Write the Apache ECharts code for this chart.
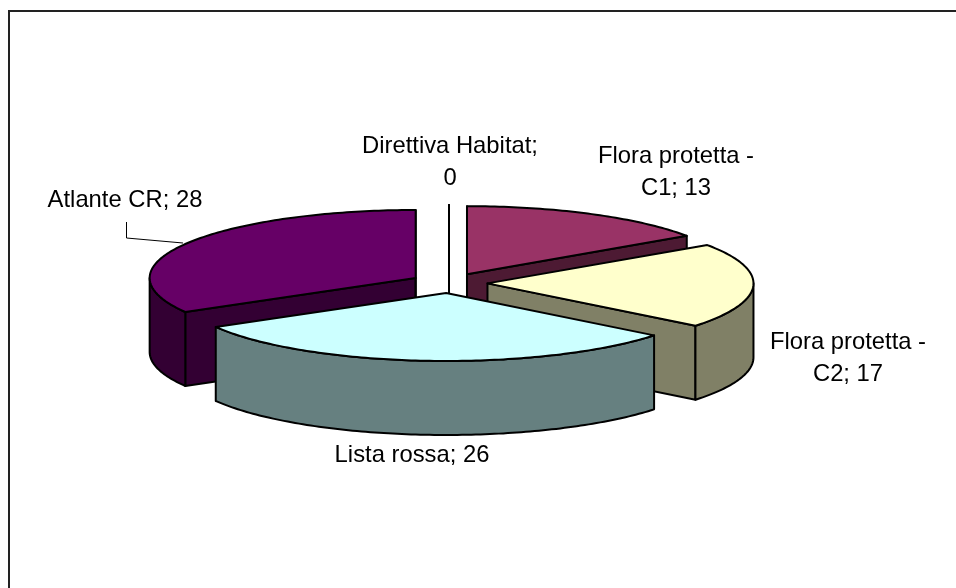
<!DOCTYPE html>
<html>
<head>
<meta charset="utf-8">
<title>Pie</title>
<script src="https://cdn.jsdelivr.net/npm/echarts@6/dist/echarts.min.js"></script>
<style>
  html, body { margin: 0; padding: 0; background: #fff; }
  #main { width: 956px; height: 588px; }
</style>
</head>
<body>
<div id="main"></div>
<script>
'use strict';

var categories = ['Direttiva Habitat', 'Flora protetta - C1', 'Flora protetta - C2', 'Lista rossa', 'Atlante CR'];
var values = [0, 13, 17, 26, 28];

var topColors = ['#ffffff', '#993366', '#ffffcc', '#ccffff', '#660066'];
var wallColors = ['#808080', '#4d1a33', '#808066', '#668080', '#330033'];

// label placement: centre of the first line, and how many words go on it
var labelSpots = [
  { x: 450, y: 146, words: 2 },
  { x: 676, y: 156, words: 3 },
  { x: 848, y: 342, words: 3 },
  { x: 412, y: 455, words: 5 },
  { x: 125, y: 200, words: 5 }
];
var leaderPoints = [[126.5, 222], [126.5, 238], [183, 243]];

// fake 3D projection of the exploded pie
var CX = 449, CY = 283, RX = 266, RY = 68, DEPTH = 74, EXPLODE_X = 38.5, EXPLODE_Y = 10;
var LINE_H = 32;
var FONT = '23.8px "Liberation Sans", Arial, sans-serif';

var total = values.reduce(function (a, b) { return a + b; }, 0);

// start/end angle in degrees, clockwise from the top, and the exploded centre
var slices = [];
var acc = 0;
values.forEach(function (v) {
  var start = acc / total * 360;
  acc += v;
  var end = acc / total * 360;
  var mid = (start + end) / 2 * Math.PI / 180;
  slices.push({
    start: start,
    end: end,
    ax: CX + EXPLODE_X * Math.sin(mid),
    ay: CY - EXPLODE_Y * Math.cos(mid)
  });
});

function rimPoint(s, deg, drop) {
  var r = deg * Math.PI / 180;
  return [s.ax + RX * Math.sin(r), s.ay - RY * Math.cos(r) + drop];
}

function arc(s, from, to, drop) {
  var pts = [];
  for (var d = from; d < to; d += 1) {
    pts.push(rimPoint(s, d, drop));
  }
  pts.push(rimPoint(s, to, drop));
  return pts;
}

function face(points, fill) {
  return {
    type: 'polygon',
    shape: { points: points },
    style: { fill: fill, stroke: '#000', lineWidth: 2, lineJoin: 'round' }
  };
}

function radialWall(s, deg, fill) {
  var p = rimPoint(s, deg, 0);
  return face([[s.ax, s.ay], p, [p[0], p[1] + DEPTH], [s.ax, s.ay + DEPTH]], fill);
}

function renderSlice(params, api) {
  var i = api.value(0);
  var s = slices[i];
  var children = [];
  var wall = wallColors[i];

  // walls first, only those turned to the viewer, then the top face
  if (-Math.sin(s.start * Math.PI / 180) > -1e-9) {
    children.push(radialWall(s, s.start, wall));
  }
  if (Math.sin(s.end * Math.PI / 180) > -1e-9) {
    children.push(radialWall(s, s.end, wall));
  }
  var from = Math.max(s.start, 90);
  var to = Math.min(s.end, 270);
  if (to > from) {
    children.push(face(arc(s, from, to, 0).concat(arc(s, from, to, DEPTH).reverse()), wall));
  }
  children.push(face([[s.ax, s.ay]].concat(arc(s, s.start, s.end, 0)), topColors[i]));

  return { type: 'group', children: children };
}

function labelText(i) {
  var words = (categories[i] + '; ' + values[i]).split(' ');
  var n = labelSpots[i].words;
  var first = words.slice(0, n).join(' ');
  var rest = words.slice(n).join(' ');
  return rest ? [first, rest] : [first];
}

var labelElements = [];
categories.forEach(function (c, i) {
  labelText(i).forEach(function (line, k) {
    labelElements.push({
      type: 'text',
      x: labelSpots[i].x,
      y: labelSpots[i].y + k * LINE_H,
      style: { text: line, font: FONT, fill: '#000', align: 'center', verticalAlign: 'middle' }
    });
  });
});

// back to front: slices further up the screen are painted first
var rows = categories.map(function (c, i) { return [i, values[i]]; });
rows.sort(function (a, b) { return slices[a[0]].ay - slices[b[0]].ay; });

var chart = echarts.init(document.getElementById('main'), null, { renderer: 'canvas' });
chart.setOption({
  animation: false,
  backgroundColor: '#fff',
  graphic: [
    {
      type: 'polyline',
      shape: { points: [[9, 588], [9, 11], [956, 11]] },
      style: { fill: null, stroke: '#222', lineWidth: 2 }
    },
    {
      type: 'polyline',
      shape: { points: leaderPoints },
      style: { fill: null, stroke: '#000', lineWidth: 1 }
    }
  ].concat(labelElements),
  series: [{
    type: 'custom',
    coordinateSystem: 'none',
    silent: true,
    renderItem: renderSlice,
    data: rows
  }]
});
</script>
</body>
</html>
